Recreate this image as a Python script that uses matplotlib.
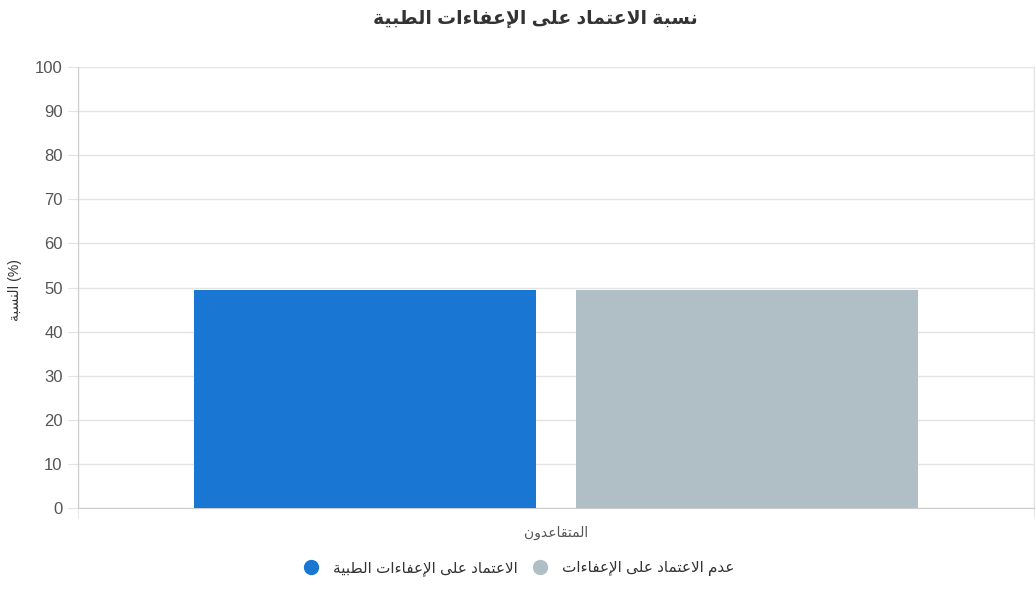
import matplotlib
matplotlib.use("Agg")
import matplotlib.pyplot as plt
from matplotlib.lines import Line2D

# ---------------- data ----------------
title = "نسبة الاعتماد على الإعفاءات الطبية"
y_label = "النسبة (%)"
categories = ["المتقاعدون"]
series_names = ["الاعتماد على الإعفاءات الطبية", "عدم الاعتماد على الإعفاءات"]
series_values = [[49.5], [49.5]]
series_colors = ["#1976D2", "#B0BEC5"]
y_ticks = [0, 10, 20, 30, 40, 50, 60, 70, 80, 90, 100]

# ---------------- minimal Arabic shaping ----------------
FORMS = {
    '\u0621': (0xFE80, None, None, None),
    '\u0622': (0xFE81, 0xFE82, None, None),
    '\u0623': (0xFE83, 0xFE84, None, None),
    '\u0624': (0xFE85, 0xFE86, None, None),
    '\u0625': (0xFE87, 0xFE88, None, None),
    '\u0626': (0xFE89, 0xFE8A, 0xFE8B, 0xFE8C),
    '\u0627': (0xFE8D, 0xFE8E, None, None),
    '\u0628': (0xFE8F, 0xFE90, 0xFE91, 0xFE92),
    '\u0629': (0xFE93, 0xFE94, None, None),
    '\u062A': (0xFE95, 0xFE96, 0xFE97, 0xFE98),
    '\u062B': (0xFE99, 0xFE9A, 0xFE9B, 0xFE9C),
    '\u062C': (0xFE9D, 0xFE9E, 0xFE9F, 0xFEA0),
    '\u062D': (0xFEA1, 0xFEA2, 0xFEA3, 0xFEA4),
    '\u062E': (0xFEA5, 0xFEA6, 0xFEA7, 0xFEA8),
    '\u062F': (0xFEA9, 0xFEAA, None, None),
    '\u0630': (0xFEAB, 0xFEAC, None, None),
    '\u0631': (0xFEAD, 0xFEAE, None, None),
    '\u0632': (0xFEAF, 0xFEB0, None, None),
    '\u0633': (0xFEB1, 0xFEB2, 0xFEB3, 0xFEB4),
    '\u0634': (0xFEB5, 0xFEB6, 0xFEB7, 0xFEB8),
    '\u0635': (0xFEB9, 0xFEBA, 0xFEBB, 0xFEBC),
    '\u0636': (0xFEBD, 0xFEBE, 0xFEBF, 0xFEC0),
    '\u0637': (0xFEC1, 0xFEC2, 0xFEC3, 0xFEC4),
    '\u0638': (0xFEC5, 0xFEC6, 0xFEC7, 0xFEC8),
    '\u0639': (0xFEC9, 0xFECA, 0xFECB, 0xFECC),
    '\u063A': (0xFECD, 0xFECE, 0xFECF, 0xFED0),
    '\u0641': (0xFED1, 0xFED2, 0xFED3, 0xFED4),
    '\u0642': (0xFED5, 0xFED6, 0xFED7, 0xFED8),
    '\u0643': (0xFED9, 0xFEDA, 0xFEDB, 0xFEDC),
    '\u0644': (0xFEDD, 0xFEDE, 0xFEDF, 0xFEE0),
    '\u0645': (0xFEE1, 0xFEE2, 0xFEE3, 0xFEE4),
    '\u0646': (0xFEE5, 0xFEE6, 0xFEE7, 0xFEE8),
    '\u0647': (0xFEE9, 0xFEEA, 0xFEEB, 0xFEEC),
    '\u0648': (0xFEED, 0xFEEE, None, None),
    '\u0649': (0xFEEF, 0xFEF0, None, None),
    '\u064A': (0xFEF1, 0xFEF2, 0xFEF3, 0xFEF4),
}
LAM_ALEF = {'\u0622': (0xFEF5, 0xFEF6), '\u0623': (0xFEF7, 0xFEF8),
            '\u0625': (0xFEF9, 0xFEFA), '\u0627': (0xFEFB, 0xFEFC)}


def shape(text):
    chars = []
    i = 0
    while i < len(text):
        c = text[i]
        if c == '\u0644' and i + 1 < len(text) and text[i + 1] in LAM_ALEF:
            chars.append(('LA', text[i + 1]))
            i += 2
        else:
            chars.append(('C', c))
            i += 1

    def can_join_next(item):
        kind, c = item
        return kind == 'C' and c in FORMS and FORMS[c][2] is not None

    def is_arabic(item):
        kind, c = item
        return kind == 'LA' or c in FORMS

    out = []
    for idx, item in enumerate(chars):
        kind, c = item
        prev_joins = idx > 0 and can_join_next(chars[idx - 1])
        nxt = chars[idx + 1] if idx + 1 < len(chars) else None
        if kind == 'LA':
            iso, fin = LAM_ALEF[c]
            out.append(chr(fin if prev_joins else iso))
            continue
        if c not in FORMS:
            out.append(c)
            continue
        iso, fin, ini, med = FORMS[c]
        this_joins_next = ini is not None and nxt is not None and is_arabic(nxt)
        if prev_joins and this_joins_next:
            out.append(chr(med))
        elif prev_joins:
            out.append(chr(fin))
        elif this_joins_next:
            out.append(chr(ini))
        else:
            out.append(chr(iso))

    # simple bidi with LTR base direction
    s = out
    types = []
    for ch in s:
        if 0xFE70 <= ord(ch) <= 0xFEFF or 0x0600 <= ord(ch) <= 0x06FF:
            types.append('R')
        elif ch.isascii() and ch.isalnum():
            types.append('L')
        else:
            types.append('N')
    resolved = types[:]
    for k, t in enumerate(types):
        if t == 'N':
            prev = next((types[j] for j in range(k - 1, -1, -1) if types[j] != 'N'), 'L')
            nxt = next((types[j] for j in range(k + 1, len(types)) if types[j] != 'N'), 'L')
            resolved[k] = 'R' if (prev == 'R' and nxt == 'R') else 'L'
    result = []
    k = 0
    while k < len(s):
        if resolved[k] == 'R':
            j = k
            while j < len(s) and resolved[j] == 'R':
                j += 1
            result.extend(reversed(s[k:j]))
            k = j
        else:
            result.append(s[k])
            k += 1
    return ''.join(result)


# ---------------- plot ----------------
plt.rcParams['font.family'] = ['Liberation Sans', 'DejaVu Sans']

fig = plt.figure(figsize=(10.36, 5.94), dpi=100)
ax = fig.add_axes([78 / 1036, (594 - 508) / 594, (1034 - 78) / 1036, (508 - 67) / 594])

n = len(series_names)
width = 0.358
offsets = [-0.2, 0.2]
for k in range(n):
    xs = [i + offsets[k] for i in range(len(categories))]
    ax.bar(xs, series_values[k], width=width, color=series_colors[k],
           zorder=3, linewidth=0)

ax.set_xlim(-0.5, len(categories) - 0.5)
ax.set_ylim(0, 100)
ax.set_yticks(y_ticks)
ax.set_yticklabels([str(t) for t in y_ticks], fontsize=12, color='#555555')

grid_c = '#e3e3e3'
ax.yaxis.grid(True, color=grid_c, linewidth=1, zorder=0)
ax.tick_params(axis='y', length=7, color=grid_c, pad=4)
ax.set_xticks([-0.5, 0.5], minor=True)
ax.set_xticks(range(len(categories)))
ax.set_xticklabels([shape(c) for c in categories], fontsize=10, color='#555555')
ax.tick_params(axis='x', which='major', length=0, pad=13)
ax.tick_params(axis='x', which='minor', length=7, color=grid_c)
ax.xaxis.grid(True, which='minor', color=grid_c, linewidth=1, zorder=0)

ax.spines['top'].set_visible(False)
ax.spines['right'].set_color(grid_c)
ax.spines['left'].set_color('#cccccc')
ax.spines['bottom'].set_color('#cccccc')

fig.text(15 / 1036, 1 - 290 / 594, shape(y_label), rotation=90, ha='center',
         va='center', fontsize=10, color='#333333')
fig.text(535 / 1036, 1 - 19 / 594, shape(title), ha='center', va='center',
         fontsize=13.5, fontweight='bold', color='#333333')

handles = [Line2D([], [], marker='o', linestyle='', markersize=10,
                  markerfacecolor=c, markeredgecolor=c) for c in series_colors]
fig.legend(handles, [shape(s) for s in series_names], loc='center',
           bbox_to_anchor=(515 / 1036, 1 - 569 / 594), ncol=n, frameon=False,
           fontsize=11, handletextpad=0.4, columnspacing=0.5,
           labelcolor='#333333')

fig.savefig('out.png', dpi=100)
